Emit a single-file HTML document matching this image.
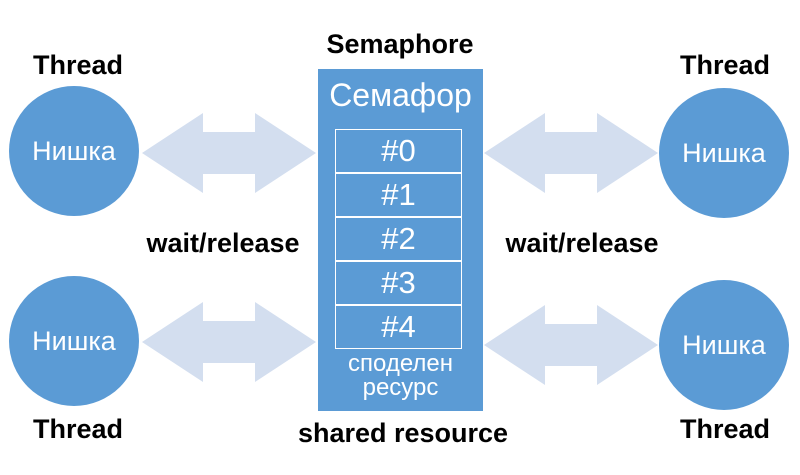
<!DOCTYPE html>
<html><head><meta charset="utf-8"><style>
body{margin:0;width:800px;height:475px;background:#fff;position:relative;overflow:hidden;font-family:"Liberation Sans",sans-serif}
.c{position:absolute;width:130px;height:130px;border-radius:50%;background:#5b9bd5;color:#fff;font-size:27px;display:flex;align-items:center;justify-content:center}
.b{position:absolute;font-weight:bold;font-size:27px;color:#000;white-space:nowrap;transform:translateX(-50%)}
.cell{position:absolute;left:335px;width:125px;height:42px;border:1.5px solid #fff;color:#fff;font-size:31px;text-align:center;line-height:42px}
</style></head><body>
<svg width="800" height="475" style="position:absolute;left:0;top:0">
<g fill="#d3deef">
<polygon points="142,153 203,113 203,132 255,132 255,113 316,153 255,193 255,174 203,174 203,193"/>
<polygon points="142,342 203,302 203,321 255,321 255,302 316,342 255,382 255,363 203,363 203,382"/>
<polygon points="484,153 545,113 545,132 597,132 597,113 658,153 597,193 597,174 545,174 545,193"/>
<polygon points="484,345 545,305 545,324 597,324 597,305 658,345 597,385 597,366 545,366 545,385"/>
</g>
<rect x="318" y="69" width="165" height="342" fill="#5b9bd5"/>
</svg>
<div class="c" style="left:9px;top:86px">Нишка</div>
<div class="c" style="left:9px;top:276px">Нишка</div>
<div class="c" style="left:659px;top:88px">Нишка</div>
<div class="c" style="left:659px;top:280px">Нишка</div>
<div class="b" style="left:78px;top:50px">Thread</div>
<div class="b" style="left:78px;top:414px">Thread</div>
<div class="b" style="left:725px;top:50px">Thread</div>
<div class="b" style="left:725px;top:414px">Thread</div>
<div class="b" style="left:400px;top:29px">Semaphore</div>
<div class="b" style="left:403px;top:418px">shared resource</div>
<div class="b" style="left:223px;top:228px">wait/release</div>
<div class="b" style="left:582px;top:228px">wait/release</div>
<div style="position:absolute;left:318px;width:165px;top:77px;text-align:center;color:#fff;font-size:32px">Семафор</div>
<div class="cell" style="top:129px">#0</div>
<div class="cell" style="top:173px">#1</div>
<div class="cell" style="top:217px">#2</div>
<div class="cell" style="top:261px">#3</div>
<div class="cell" style="top:305px">#4</div>
<div style="position:absolute;left:318px;width:165px;top:352px;text-align:center;color:#fff;font-size:24px;line-height:24px">споделен<br>ресурс</div>
</body></html>
